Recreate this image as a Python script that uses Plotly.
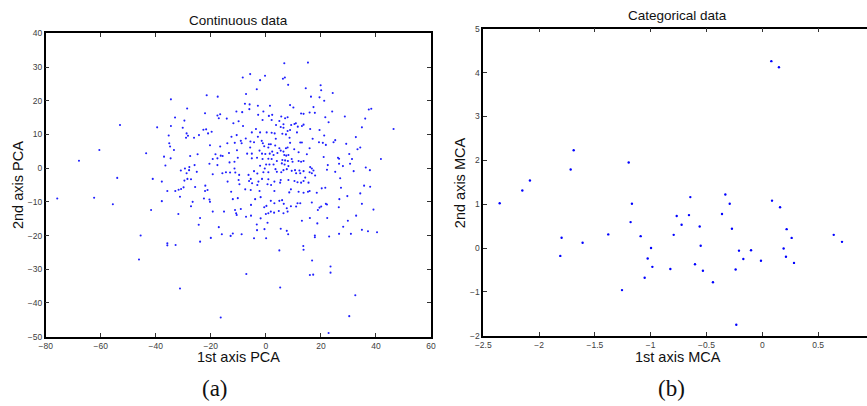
import plotly.graph_objects as go

# ---------------- data: PCA (continuous) ----------------
pca_far = [(-75.8,-9.0),(-67.9,2.2),(-60.5,5.4),(-54.0,-2.9),(-62.4,-8.8),(-55.6,-10.7)]

pca_nw = [(-5.7,27.9),(-0.3,27.4),(-8.4,26.9),(-2.1,26.1),(-3.3,23.4),(-7.2,22.0),(-34.5,20.4),(-21.5,21.6),(-17.5,21.2),(-28.6,17.7),(-7.6,19.1),(-5.9,18.9),(-6.0,17.5),(-2.9,18.5),(1.5,18.5),(-0.9,16.8),(-2.8,15.8),(1.1,15.5),(2.3,15.8),(-22.1,16.3),(-16.6,16.0),(-17.6,15.6),(-17.1,14.8),(-10.7,16.8),(-8.6,16.6),(-14.2,14.7),(-9.9,13.9),(-11.8,13.3),(-8.3,12.5),(-53.0,12.8),(-33.0,15.0),(-29.6,14.1),(-34.5,12.5),(-39.5,12.1),(-30.2,12.0),(-1.2,14.3),(2.1,14.3),(4.9,14.0),(3.7,12.8),(-3.6,11.6),(-5.1,10.6),(-2.1,10.6),(0.3,10.6),(2.1,10.5),(3.2,10.3),(-22.7,11.4),(-21.7,11.5),(-21.0,10.3),(-19.7,10.8),(-28.8,10.3),(-28.3,9.6),(-29.0,9.0),(-24.3,9.8),(-35.3,9.7),(-26.1,9.0),(-12.5,9.3),(-10.6,9.8),(-2.9,9.3),(-7.3,8.8),(-9.1,8.1),(3.6,8.7),(-5.6,7.9),(-4.3,7.7),(-1.5,8.1),(-1.1,7.4),(1.1,7.1),(1.8,7.1),(-35.1,7.4),(-34.8,6.4),(-20.3,6.8),(-16.6,6.4),(-14.0,7.4),(-11.3,7.5),(-8.8,7.4),(-5.7,6.1),(-0.6,6.5),(0.9,6.1),(3.4,6.7),(4.9,5.9),(-33.4,5.4),(-43.5,4.4),(-37.0,3.4),(-34.6,2.9),(-27.5,3.6),(-24.8,4.1),(-18.3,4.1),(-16.4,3.7),(-15.7,3.6),(-13.4,4.5),(-10.5,5.3),(-6.8,4.3),(-5.1,4.3),(-2.3,5.2),(-1.4,4.3),(-0.2,4.2),(1.4,4.3),(2.3,4.9),(2.8,3.9),(4.2,4.5),(-19.3,2.7),(-17.6,2.9),(-20.5,1.3),(-13.2,1.7),(-11.4,1.9),(-10.2,3.1),(-5.1,2.9),(-3.2,3.1),(-1.2,2.7),(0.9,2.8),(2.1,2.7),(4.0,2.1),(0.1,1.1),(1.3,1.1),(2.8,1.1),(-36.5,0.8),(-27.8,0.3),(-25.9,0.9),(-29.4,-0.1),(-30.9,-0.7),(-27.9,-0.6),(-25.1,-1.1),(-17.6,0.9),(-11.4,-0.1),(-2.1,0.7),(-0.4,-0.1),(3.5,-0.3),(-28.8,-1.5),(-19.3,-1.8),(-15.8,-1.5),(-14.5,-1.2),(-13.0,-1.3),(-11.1,-1.3),(-9.7,-2.0),(-4.3,-0.9),(-6.3,-2.0),(-3.1,-1.6),(-0.9,-1.2),(0.9,-1.2),(4.0,-1.1),(-41.1,-3.2),(-37.8,-4.0),(-29.6,-3.7),(-28.5,-3.2),(-27.2,-3.3),(-13.9,-4.0),(-9.9,-3.5),(-6.1,-3.8),(-5.5,-3.2),(-2.7,-4.0),(-1.4,-3.2),(0.9,-3.3),(3.1,-4.0),(-25.7,-5.6),(-22.0,-5.2),(-9.6,-4.8),(-5.0,-4.5),(-3.1,-5.0),(0.6,-4.8),(1.9,-5.0),(-35.8,-6.8),(-32.9,-6.8),(-31.7,-6.4),(-30.8,-6.2),(-29.9,-5.7),(-22.1,-6.8),(-21.2,-6.5),(-12.6,-7.0),(-7.5,-6.3),(-5.5,-6.5),(-2.3,-6.8),(3.1,-6.8)]

pca_ne = [(6.7,31.1),(15.3,31.3),(6.2,26.5),(6.9,26.9),(8.1,24.7),(14.5,23.7),(19.9,24.6),(20.1,23.1),(24.3,22.3),(16.4,21.2),(19.5,21.0),(21.2,20.0),(8.8,18.7),(10.0,18.0),(17.3,18.1),(24.1,16.8),(37.4,17.4),(38.3,17.6),(12.8,16.2),(13.7,16.1),(15.9,16.5),(17.8,16.4),(21.6,15.1),(28.7,15.3),(5.6,15.3),(7.0,14.8),(7.9,15.1),(36.1,14.7),(22.8,13.6),(6.4,13.0),(9.2,12.8),(10.4,13.1),(10.9,13.3),(11.6,12.3),(13.1,12.5),(13.7,12.9),(5.4,12.2),(6.4,12.0),(16.1,11.6),(19.5,11.3),(34.9,12.1),(46.4,11.6),(6.0,10.2),(7.3,10.0),(7.9,11.0),(8.8,11.3),(11.3,10.6),(21.2,9.7),(32.7,9.2),(25.2,8.3),(24.6,7.7),(17.0,8.7),(8.6,9.0),(12.5,7.6),(13.1,7.6),(8.8,7.5),(19.3,7.7),(20.7,7.5),(21.8,6.9),(29.2,7.2),(34.3,6.1),(33.3,5.6),(7.3,5.9),(7.9,6.1),(10.3,5.6),(15.9,5.9),(5.4,5.2),(6.4,4.9),(11.9,4.7),(30.3,4.2),(14.9,4.1),(6.7,3.9),(7.4,3.7),(8.2,3.9),(21.0,3.3),(26.2,3.1),(26.6,2.8),(31.3,2.7),(41.8,2.7),(6.0,2.4),(7.0,2.3),(8.0,2.1),(9.4,2.7),(9.7,1.9),(11.9,2.1),(12.8,1.9),(13.7,2.1),(5.8,1.4),(6.8,1.1),(8.2,0.6),(16.1,0.3),(16.7,-0.1),(22.5,0.9),(26.6,1.3),(28.0,0.6),(30.6,1.3),(36.3,0.2),(37.8,-0.6),(6.4,-0.6),(7.6,-0.3),(9.4,-0.8),(10.6,-0.6),(12.2,-0.7),(13.7,-0.9),(17.3,-0.7),(22.2,-0.5),(25.2,-1.1),(31.9,-0.9),(5.6,-1.2),(11.0,-1.5),(12.5,-1.5),(15.9,-1.2),(16.7,-1.5),(17.9,-2.2),(8.2,-3.5),(10.4,-3.8),(11.5,-4.2),(12.8,-4.3),(13.7,-3.8),(15.5,-4.3),(14.3,-2.8),(27.0,-3.0),(5.4,-3.5),(5.2,-4.3),(35.7,-5.2),(37.9,-5.5),(27.3,-5.8),(9.1,-6.3),(11.9,-7.0),(13.7,-7.3),(15.3,-7.0),(15.9,-6.8),(18.5,-7.3),(20.3,-6.0),(21.6,-5.8),(34.3,-7.5),(8.5,-7.2)]

pca_sw = [(-37.8,-9.8),(-41.7,-12.4),(-31.2,-8.5),(-26.6,-10.0),(-27.2,-11.3),(-22.5,-9.0),(-20.5,-9.3),(-20.3,-10.0),(-12.0,-9.2),(-10.2,-8.9),(-3.9,-9.2),(-1.9,-8.6),(1.8,-9.7),(3.1,-10.4),(4.9,-9.7),(-5.4,-10.9),(-0.6,-11.6),(0.2,-11.2),(-19.3,-12.9),(-15.2,-12.9),(-11.2,-12.4),(-10.8,-13.4),(-10.6,-13.9),(-9.1,-12.1),(-5.4,-14.1),(-7.2,-14.4),(-1.9,-14.9),(0.0,-13.6),(0.9,-13.4),(1.8,-12.9),(3.0,-13.2),(4.7,-12.7),(0.6,-16.2),(-3.3,-16.7),(-0.5,-18.1),(-3.2,-18.4),(-31.8,-13.6),(-23.9,-14.8),(-24.4,-16.8),(-17.1,-17.5),(-16.0,-19.6),(-20.0,-20.7),(-12.8,-20.1),(-12.0,-19.4),(-8.8,-19.6),(-4.3,-20.8),(0.1,-20.8),(-45.5,-20.0),(-23.9,-21.8),(-35.8,-22.3),(-35.8,-22.9),(-32.8,-22.8),(4.9,-24.4),(-46.1,-27.1),(-7.1,-31.4),(-31.2,-35.7),(-16.4,-44.3)]

pca_se = [(5.9,-9.5),(6.5,-10.6),(7.6,-11.9),(7.9,-12.9),(9.1,-11.3),(11.0,-11.4),(11.5,-10.4),(12.5,-10.4),(6.4,-13.4),(16.7,-10.2),(18.9,-12.4),(19.5,-11.7),(20.1,-11.4),(21.8,-10.6),(22.2,-10.8),(26.7,-9.2),(26.5,-11.6),(29.6,-8.3),(34.9,-10.6),(39.1,-12.3),(32.8,-14.1),(29.8,-15.6),(28.1,-17.4),(26.6,-19.5),(30.9,-19.5),(34.9,-18.3),(37.1,-18.7),(40.4,-19.0),(22.3,-14.8),(18.7,-16.4),(16.0,-14.8),(13.1,-15.6),(5.4,-18.0),(7.6,-18.6),(8.1,-19.6),(17.8,-20.0),(17.8,-20.5),(23.0,-20.3),(13.6,-23.1),(13.7,-24.2),(16.8,-27.4),(23.5,-29.2),(23.5,-31.0),(16.0,-31.7),(17.2,-31.6),(5.2,-35.4),(32.5,-37.7),(30.3,-43.9),(22.8,-48.9)]

# ---------------- data: MCA (categorical) ----------------
mca_x = [0.081,0.149,-1.69,-1.717,-1.197,-2.082,-2.150,-0.645,-0.331,-2.353,-1.798,-1.810,-1.610,-1.380,-1.168,-1.180,-1.090,-0.997,-1.027,-0.985,-1.054,-1.257,-0.824,-0.794,-0.767,-0.723,-0.657,-0.561,-0.552,-0.603,-0.532,-0.442,-0.361,-0.292,-0.272,-0.239,-0.209,-0.170,-0.101,-0.012,-0.233,0.087,0.159,0.218,0.191,0.212,0.263,0.284,0.640,0.714]
mca_y = [4.26,4.12,2.23,1.79,1.95,1.54,1.31,1.16,1.22,1.02,0.235,-0.18,0.12,0.31,1.01,0.59,0.27,0.0,-0.24,-0.43,-0.68,-0.96,-0.48,0.30,0.73,0.53,0.75,0.49,0.05,-0.37,-0.52,-0.78,0.775,1.01,0.44,-0.49,-0.06,-0.25,-0.05,-0.29,-1.75,1.08,0.93,0.43,-0.01,-0.20,0.23,-0.34,0.30,0.14]

pca_x_ticks = [-80, -60, -40, -20, 0, 20, 40, 60]
pca_y_ticks = [-50, -40, -30, -20, -10, 0, 10, 20, 30, 40]
mca_x_ticks = [-2.5, -2, -1.5, -1, -0.5, 0, 0.5]
mca_y_ticks = [-2, -1, 0, 1, 2, 3, 4, 5]

pca_points = pca_far + pca_nw + pca_ne + pca_sw + pca_se
pca_x = [p[0] for p in pca_points]
pca_y = [p[1] for p in pca_points]


def fmt(v):
    s = f"{abs(v):g}"
    return ("\u2212" + s) if v < 0 else s


fig = go.Figure()
fig.add_trace(go.Scatter(x=pca_x, y=pca_y, mode="markers", xaxis="x", yaxis="y",
                         marker=dict(size=2.1, color="#2020ff", line=dict(width=0)),
                         showlegend=False, hoverinfo="skip"))
fig.add_trace(go.Scatter(x=mca_x, y=mca_y, mode="markers", xaxis="x2", yaxis="y2",
                         marker=dict(size=2.4, color="#0000ff", line=dict(width=0)),
                         showlegend=False, hoverinfo="skip"))

tickfont = dict(family="Liberation Sans", size=8.5, color="#404040")
common = dict(showgrid=False, zeroline=False, showline=True, linecolor="black", linewidth=1.5,
              ticks="inside", ticklen=4, tickcolor="#333", tickwidth=1, tickfont=tickfont,
              automargin=False)

fig.update_layout(
    template="none",
    width=867, height=406,
    margin=dict(l=0, r=0, t=0, b=0, pad=0),
    paper_bgcolor="white", plot_bgcolor="white",
    hovermode=False,
    xaxis=dict(domain=[0.0527, 0.4971], range=[-80, 60], tickmode="array",
               tickvals=pca_x_ticks, ticktext=[fmt(v) for v in pca_x_ticks],
               anchor="y", mirror="ticks", **common),
    yaxis=dict(domain=[0.1707, 0.918], range=[-50, 40], tickmode="array",
               tickvals=pca_y_ticks, ticktext=[fmt(v) for v in pca_y_ticks],
               anchor="x", mirror="ticks", **common),
    xaxis2=dict(domain=[0.5574, 1.0], range=[-2.5, 0.938], tickmode="array",
                tickvals=mca_x_ticks, ticktext=[fmt(v) for v in mca_x_ticks],
                anchor="y2", mirror="ticks", **common),
    yaxis2=dict(domain=[0.1731, 0.9293], range=[-2, 5], tickmode="array",
                tickvals=mca_y_ticks, ticktext=[fmt(v) for v in mca_y_ticks],
                anchor="x2", mirror=False, **common),
)

title_font = dict(family="Liberation Sans", size=13.5, color="#111")
label_font = dict(family="Liberation Sans", size=14.5, color="#111")
serif = dict(family="Liberation Serif", size=23, color="#111")
ann = [
    dict(text="Continuous data", x=0.275, y=0.949, font=title_font),
    dict(text="Categorical data", x=0.782, y=0.963, font=title_font),
    dict(text="1st axis PCA", x=0.275, y=0.1195, font=label_font),
    dict(text="1st axis MCA", x=0.782, y=0.1195, font=label_font),
    dict(text="2nd axis PCA", x=0.0208, y=0.5443, font=label_font, textangle=-90),
    dict(text="2nd axis MCA", x=0.5306, y=0.549, font=label_font, textangle=-90),
    dict(text="(a)", x=0.248, y=0.0419, font=serif),
    dict(text="(b)", x=0.7747, y=0.0419, font=serif),
]
for a in ann:
    a.update(xref="paper", yref="paper", showarrow=False, xanchor="center", yanchor="middle")
fig.update_layout(annotations=ann)

fig.write_html("out.html", config={"displayModeBar": False},
               post_script="document.body.style.margin='0px';")
